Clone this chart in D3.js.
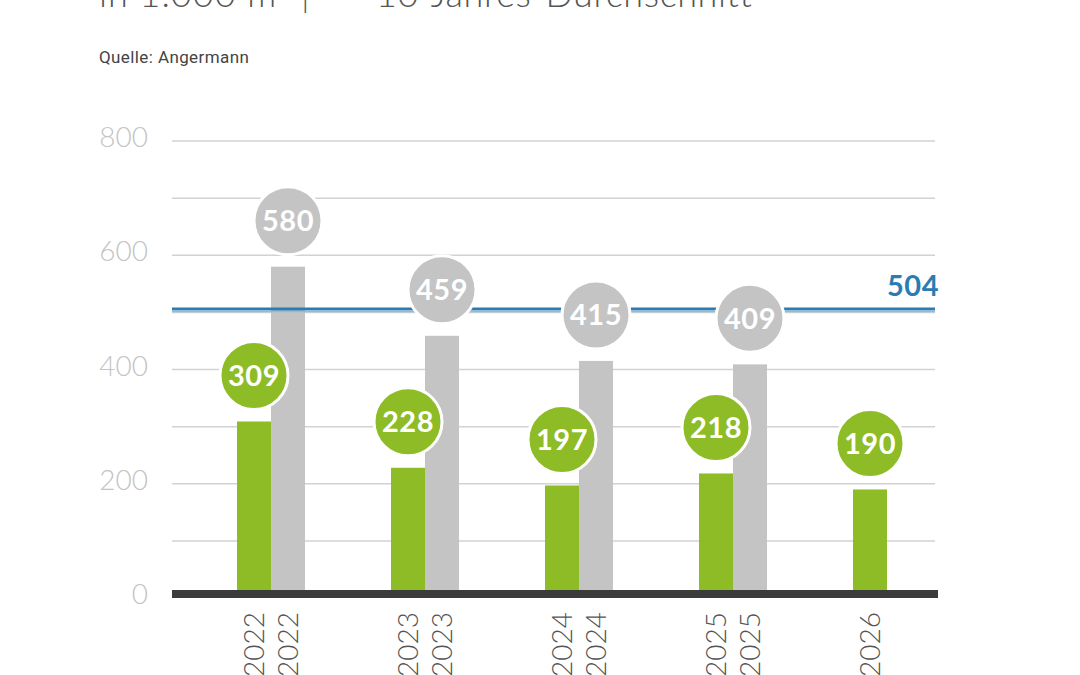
<!DOCTYPE html>
<html>
<head>
<meta charset="utf-8">
<script src="https://cdn.jsdelivr.net/npm/d3@7"></script>
<style>
  body { margin: 0; background: #fff; }
  svg { display: block; }
</style>
</head>
<body>
<div id="chart"></div>
<script>
var width = 1080, height = 675;

// data
var years = ["2022", "2023", "2024", "2025", "2026"];
var greenValues = [309, 228, 197, 218, 190];
var grayValues = [580, 459, 415, 409, null];
var average = 504;
var gridTicks = [0, 100, 200, 300, 400, 500, 600, 700, 800];
var labelTicks = [0, 200, 400, 600, 800];

var green = "#8dbc27", gray = "#c4c4c4", blue = "#2a7cb2";
var barW = 34;

var svg = d3.select("#chart").append("svg")
  .attr("width", width)
  .attr("height", height);

var y = d3.scaleLinear().domain([0, 800]).range([598, 141]);
// left edge of the green bar in each group
var x = d3.scalePoint().domain(years).range([237, 853]);

// title, cut off at the top edge
svg.append("text")
  .attr("x", 99).attr("y", 7)
  .attr("font-family", "Lato, 'Open Sans', sans-serif")
  .attr("font-weight", 300)
  .attr("font-size", 36)
  .attr("letter-spacing", 1)
  .attr("fill", "#555")
  .text("in 1.000 m²  |");
svg.append("line")
  .attr("x1", 322).attr("x2", 364).attr("y1", -6).attr("y2", -6)
  .attr("stroke", blue).attr("stroke-width", 4);
svg.append("text")
  .attr("x", 376).attr("y", 7)
  .attr("font-family", "Lato, 'Open Sans', sans-serif")
  .attr("font-weight", 300)
  .attr("font-size", 36)
  .attr("letter-spacing", 0.6)
  .attr("fill", "#555")
  .text("10-Jahres-Durchschnitt");

svg.append("text")
  .attr("x", 99).attr("y", 63)
  .attr("font-family", "Roboto, 'Noto Sans', sans-serif")
  .attr("font-size", 17)
  .attr("letter-spacing", 0.4)
  .attr("fill", "#444")
  .text("Quelle: Angermann");

// grid
svg.append("g").selectAll("line.grid")
  .data(gridTicks.filter(d => d > 0))
  .enter().append("line")
  .attr("class", "grid")
  .attr("x1", 172).attr("x2", 935)
  .attr("y1", d => y(d)).attr("y2", d => y(d))
  .attr("stroke", "#d2d2d2").attr("stroke-width", 1.5);

svg.append("g").selectAll("text.ylab")
  .data(labelTicks)
  .enter().append("text")
  .attr("class", "ylab")
  .attr("x", 148)
  .attr("y", d => y(d) + 6)
  .attr("text-anchor", "end")
  .attr("font-family", "Lato, 'Open Sans', sans-serif")
  .attr("font-weight", 300)
  .attr("font-size", 28)
  .attr("fill", "#c4c4c4")
  .text(d => d);

// bars
var groups = svg.append("g").selectAll("g.year")
  .data(years)
  .enter().append("g")
  .attr("class", "year");

groups.append("rect")
  .attr("x", d => x(d))
  .attr("width", barW)
  .attr("y", (d, i) => y(greenValues[i]))
  .attr("height", (d, i) => y(0) - y(greenValues[i]))
  .attr("fill", green);

groups.filter((d, i) => grayValues[i] != null).append("rect")
  .attr("x", d => x(d) + barW)
  .attr("width", barW)
  .attr("y", d => y(grayValues[years.indexOf(d)]))
  .attr("height", d => y(0) - y(grayValues[years.indexOf(d)]))
  .attr("fill", gray);

// 10 year average
svg.append("line")
  .attr("x1", 172).attr("x2", 935)
  .attr("y1", y(average) - 1).attr("y2", y(average) - 1)
  .attr("stroke", blue).attr("stroke-width", 3);
svg.append("line")
  .attr("x1", 172).attr("x2", 935)
  .attr("y1", y(average) + 1.5).attr("y2", y(average) + 1.5)
  .attr("stroke", "#8fbcdb").attr("stroke-width", 1.2);
svg.append("text")
  .attr("x", 939).attr("y", y(average) - 14)
  .attr("text-anchor", "end")
  .attr("font-family", "Lato, 'Open Sans', sans-serif")
  .attr("font-weight", 700)
  .attr("font-size", 29)
  .attr("letter-spacing", 0.5)
  .attr("fill", blue)
  .text(average);

// value bubbles
var bubbles = [];
years.forEach(function(yr, i) {
  bubbles.push({ cx: x(yr) + barW / 2, v: greenValues[i], fill: green });
  if (grayValues[i] != null) bubbles.push({ cx: x(yr) + barW * 1.5, v: grayValues[i], fill: gray });
});

var b = svg.append("g").selectAll("g.bubble")
  .data(bubbles)
  .enter().append("g")
  .attr("class", "bubble")
  .attr("transform", d => "translate(" + d.cx + "," + (y(d.v) - 46) + ")");

b.append("circle")
  .attr("r", 34)
  .attr("fill", d => d.fill)
  .attr("stroke", "#fff").attr("stroke-width", 3);

b.append("text")
  .attr("text-anchor", "middle")
  .attr("dy", "0.36em")
  .attr("font-family", "Lato, 'Open Sans', sans-serif")
  .attr("font-weight", 700)
  .attr("font-size", 29)
  .attr("letter-spacing", 0.5)
  .attr("fill", "#fff")
  .text(d => d.v);

// base line
svg.append("rect")
  .attr("x", 172).attr("y", y(0) - 8)
  .attr("width", 766).attr("height", 8)
  .attr("fill", "#3b3b3b");

// year labels, rotated
var xLabels = [];
years.forEach(function(yr, i) {
  xLabels.push({ cx: x(yr) + barW / 2, t: yr });
  if (grayValues[i] != null) xLabels.push({ cx: x(yr) + barW * 1.5, t: yr });
});

svg.append("g").selectAll("text.xlab")
  .data(xLabels)
  .enter().append("text")
  .attr("class", "xlab")
  .attr("transform", d => "translate(" + d.cx + ",612) rotate(-90)")
  .attr("text-anchor", "end")
  .attr("dy", "0.36em")
  .attr("font-family", "Lato, 'Open Sans', sans-serif")
  .attr("font-weight", 300)
  .attr("font-size", 28)
  .attr("fill", "#555")
  .text(d => d.t);
</script>
</body>
</html>
